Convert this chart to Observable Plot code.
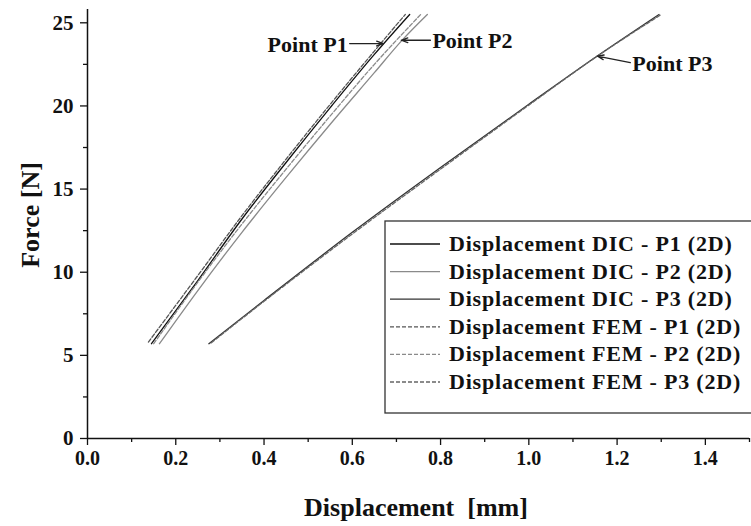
<!DOCTYPE html>
<html>
<head>
<meta charset="utf-8">
<script src="https://cdn.jsdelivr.net/npm/d3@7"></script>
<script src="https://cdn.jsdelivr.net/npm/@observablehq/plot@0.6"></script>
<style>
  html, body { margin: 0; padding: 0; background: #fff; }
  #chart { position: relative; width: 751px; height: 526px; overflow: hidden; }
</style>
</head>
<body>
<div id="chart"></div>
<script>
// ---- data (displacement [mm], force [N]) ----
const dicP1X = [0.145, 0.25, 0.35, 0.45, 0.55, 0.65, 0.73];
const dicP1F = [5.7, 9.5, 13.2, 16.6, 19.9, 23.1, 25.5];
const dicP2X = [0.163, 0.25, 0.35, 0.45, 0.55, 0.65, 0.711, 0.77];
const dicP2F = [5.7, 8.9, 12.4, 15.7, 18.9, 22.0, 23.9, 25.5];
const dicP3X = [0.275, 0.4, 0.6, 0.8, 1.0, 1.155, 1.295];
const dicP3F = [5.7, 8.3, 12.4, 16.3, 20.1, 23.0, 25.5];
const femP1X = [0.138, 0.25, 0.35, 0.45, 0.55, 0.65, 0.72];
const femP1F = [5.8, 9.8, 13.4, 16.8, 20.1, 23.3, 25.5];
const femP2X = [0.15, 0.25, 0.35, 0.45, 0.55, 0.65, 0.755];
const femP2F = [5.7, 9.4, 12.9, 16.2, 19.4, 22.5, 25.5];
const femP3X = [0.28, 0.4, 0.6, 0.8, 1.0, 1.15, 1.30];
const femP3F = [5.75, 8.25, 12.3, 16.2, 20.05, 22.9, 25.5];

const seriesNames = [
  "Displacement DIC - P1 (2D)", "Displacement DIC - P2 (2D)", "Displacement DIC - P3 (2D)",
  "Displacement FEM - P1 (2D)", "Displacement FEM - P2 (2D)", "Displacement FEM - P3 (2D)"
];
const seriesColors = ["#111111", "#8a8a8a", "#333333", "#555555", "#8a8a8a", "#666666"];
const seriesDash = [null, null, null, "4,2", "4,2", "4,2"];

const xTicks = [0, 0.2, 0.4, 0.6, 0.8, 1.0, 1.2, 1.4];
const xMinorTicks = [0.1, 0.3, 0.5, 0.7, 0.9, 1.1, 1.3, 1.5];
const yTicks = [0, 5, 10, 15, 20, 25];
const yMinorTicks = [2.5, 7.5, 12.5, 17.5, 22.5];

// annotations: label, arrow tip (x,F), arrow tail (x,F), text anchor
const annLabels = ["Point P1", "Point P2", "Point P3"];
const annTipX = [0.670, 0.711, 1.155];
const annTipF = [23.75, 23.95, 23.0];
const annTailX = [0.594, 0.777, 1.230];
const annTailF = [23.75, 23.95, 22.6];
const annAnchor = ["end", "start", "start"];

// ---- build table ----
const allX = [dicP1X, dicP2X, dicP3X, femP1X, femP2X, femP3X];
const allF = [dicP1F, dicP2F, dicP3F, femP1F, femP2F, femP3F];
const rows = [];
allX.forEach((xs, s) => xs.forEach((x, i) => rows.push({series: seriesNames[s], s, x, f: allF[s][i]})));
const ann = annLabels.map((label, i) => ({
  label, tx: annTipX[i], tf: annTipF[i], ax: annTailX[i], af: annTailF[i], anchor: annAnchor[i]
}));

const font = "'Liberation Serif', 'Times New Roman', serif";

const lineMarks = seriesNames.map((name, s) =>
  Plot.line(rows.filter(r => r.s === s), {
    x: "x", y: "f", stroke: seriesColors[s], strokeWidth: 1.3,
    strokeDasharray: seriesDash[s] || undefined, curve: "monotone-x"
  })
);

const chart = Plot.plot({
  width: 751,
  height: 526,
  marginLeft: 87,
  marginRight: 2,
  marginTop: 9,
  marginBottom: 88,
  style: {fontFamily: font, fontWeight: "bold", fontSize: "20px", color: "#111", background: "#fff"},
  x: {domain: [0, 1.5]},
  y: {domain: [0, 25.8]},
  marks: [
    Plot.axisX({ticks: xTicks, tickFormat: d3.format(".1f"), tickSize: 7, tickPadding: 5, label: null, fontSize: 20, fontWeight: "bold", strokeWidth: 1.3}),
    Plot.axisX({ticks: xMinorTicks, tickSize: 4, text: null, label: null, strokeWidth: 1.3}),
    Plot.axisY({ticks: yTicks, tickFormat: d3.format("d"), tickSize: 7, tickPadding: 7, label: null, fontSize: 21, fontWeight: "bold", strokeWidth: 1.3}),
    Plot.axisY({ticks: yMinorTicks, tickSize: 4, text: null, label: null, strokeWidth: 1.3}),
    Plot.ruleX([0], {stroke: "#111", strokeWidth: 1.5}),
    Plot.ruleY([0], {stroke: "#111", strokeWidth: 1.5}),
    ...lineMarks,
    Plot.arrow(ann, {x1: "ax", y1: "af", x2: "tx", y2: "tf", stroke: "#222", strokeWidth: 1.3, headLength: 8, headAngle: 40}),
    Plot.text(ann.filter(a => a.anchor === "end"), {x: "ax", y: "af", text: "label", textAnchor: "end", dx: -2, dy: 1, fontSize: 22, fontWeight: "bold", fill: "#111"}),
    Plot.text(ann.filter(a => a.anchor === "start"), {x: "ax", y: "af", text: "label", textAnchor: "start", dx: 2, dy: 1, fontSize: 22, fontWeight: "bold", fill: "#111"})
  ]
});

document.getElementById("chart").appendChild(chart);

// ---- axis titles and legend (drawn into the same svg) ----
const svg = d3.select(chart);
svg.append("text")
  .attr("x", 416).attr("y", 516)
  .attr("text-anchor", "middle")
  .attr("font-family", font).attr("font-weight", "bold").attr("font-size", 26)
  .attr("fill", "#111")
  .attr("xml:space", "preserve")
  .text("Displacement  [mm]");
svg.append("text")
  .attr("transform", "translate(39,215) rotate(-90)")
  .attr("text-anchor", "middle")
  .attr("font-family", font).attr("font-weight", "bold").attr("font-size", 26)
  .attr("fill", "#111")
  .text("Force [N]");

const lg = svg.append("g");
lg.append("rect")
  .attr("x", 385).attr("y", 221).attr("width", 400).attr("height", 192)
  .attr("fill", "#fff").attr("stroke", "#333").attr("stroke-width", 1.3);
seriesNames.forEach((name, i) => {
  const cy = 244 + i * 27.6;
  lg.append("line")
    .attr("x1", 390).attr("x2", 440).attr("y1", cy).attr("y2", cy)
    .attr("stroke", seriesColors[i]).attr("stroke-width", 1.3)
    .attr("stroke-dasharray", seriesDash[i]);
  lg.append("text")
    .attr("x", 449).attr("y", cy + 7)
    .attr("text-anchor", "start")
    .attr("font-family", font).attr("font-weight", "bold").attr("font-size", 22)
    .attr("letter-spacing", "0.8px")
    .attr("fill", "#111")
    .text(name);
});
</script>
</body>
</html>
